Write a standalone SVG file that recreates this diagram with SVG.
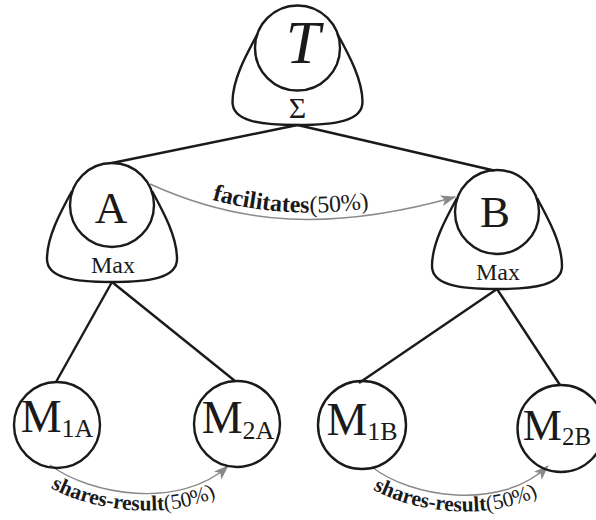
<svg xmlns="http://www.w3.org/2000/svg" width="596" height="520" viewBox="0 0 596 520">
<style>
.nd{fill:none;stroke:#1a1a1a;stroke-width:2.4}
.ed{fill:none;stroke:#1a1a1a;stroke-width:2.4}
.ar{fill:none;stroke:#8a8a8a;stroke-width:1.4}
.lb{font-family:"Liberation Serif",serif;fill:#1a1a1a;text-anchor:middle}
.al{font-family:"Liberation Serif",serif;fill:#1a1a1a}
.b{font-weight:bold}
</style>
<defs>
<path id="blob" d="M-40,-14 C-52,8 -65,32 -65,54 C-65,73 -38,77 0,77 C38,77 65,73 65,54 C65,32 52,8 40,-14"/>
<marker id="ah" markerUnits="userSpaceOnUse" markerWidth="16" markerHeight="12" refX="14" refY="5.5" orient="auto">
<path d="M0,0 L15,5.5 L0,11 L3.5,5.5 z" fill="#8a8a8a"/>
</marker>
<path id="tp1" d="M150,177 C240,218 330,225 455,190"/>
<path id="tp2" d="M39,480 C82,513 188,528 241,480"/>
<path id="tp3" d="M361,482 C405,514 505,529 561,480"/>
</defs>
<g id="connectors">
<line class="ed" x1="297.5" y1="125" x2="112" y2="163"/>
<line class="ed" x1="297.5" y1="125" x2="494" y2="170.5"/>
<line class="ed" x1="112" y1="282" x2="56" y2="382"/>
<line class="ed" x1="112" y1="282" x2="235" y2="381"/>
<line class="ed" x1="497" y1="289" x2="359" y2="383"/>
<line class="ed" x1="497" y1="289" x2="560" y2="385"/>
<path class="ar" d="M150,184 C240,225 330,232 455,197" marker-end="url(#ah)"/>
<path class="ar" d="M50,465 C90,495 180,510 228,466" marker-end="url(#ah)"/>
<path class="ar" d="M372,467 C410,497 500,512 548,466" marker-end="url(#ah)"/>
<text class="al" font-size="24"><textPath href="#tp1" startOffset="66"><tspan class="b">facilitates</tspan>(50%)</textPath></text>
<text class="al" font-size="21.5"><textPath href="#tp2" startOffset="14"><tspan class="b">shares-result</tspan>(50%)</textPath></text>
<text class="al" font-size="21.5"><textPath href="#tp3" startOffset="14"><tspan class="b">shares-result</tspan>(50%)</textPath></text>
</g>
<g id="T">
<use href="#blob" class="nd" transform="translate(297.5,48)"/>
<circle class="nd" cx="297.5" cy="48" r="42.5"/>
<text class="lb" x="303" y="63" font-size="62" font-style="italic">T</text>
<text class="lb" x="297.5" y="118" font-size="30">Σ</text>
</g>
<g id="A">
<use href="#blob" class="nd" transform="translate(112,205)"/>
<circle class="nd" cx="112" cy="205" r="42"/>
<text class="lb" x="111" y="223" font-size="45">A</text>
<text class="lb" x="113" y="273" font-size="24">Max</text>
</g>
<g id="B">
<use href="#blob" class="nd" transform="translate(497,212)"/>
<circle class="nd" cx="497" cy="212" r="42"/>
<text class="lb" x="495" y="227" font-size="45">B</text>
<text class="lb" x="498" y="280" font-size="24">Max</text>
</g>
<g id="M1A">
<circle class="nd" cx="57" cy="425" r="43"/>
<text class="lb" x="57" y="432" font-size="46">M<tspan font-size="26" dy="5">1A</tspan></text>
</g>
<g id="M2A">
<circle class="nd" cx="237" cy="424" r="43"/>
<text class="lb" x="238" y="433" font-size="46">M<tspan font-size="26" dy="6">2A</tspan></text>
</g>
<g id="M1B">
<circle class="nd" cx="362" cy="425" r="44"/>
<text class="lb" x="362" y="435" font-size="46">M<tspan font-size="26" dy="5">1B</tspan></text>
</g>
<g id="M2B">
<circle class="nd" cx="561" cy="428.5" r="43.5"/>
<text class="lb" x="557" y="440" font-size="44">M<tspan font-size="25" dy="5">2B</tspan></text>
</g>
</svg>
